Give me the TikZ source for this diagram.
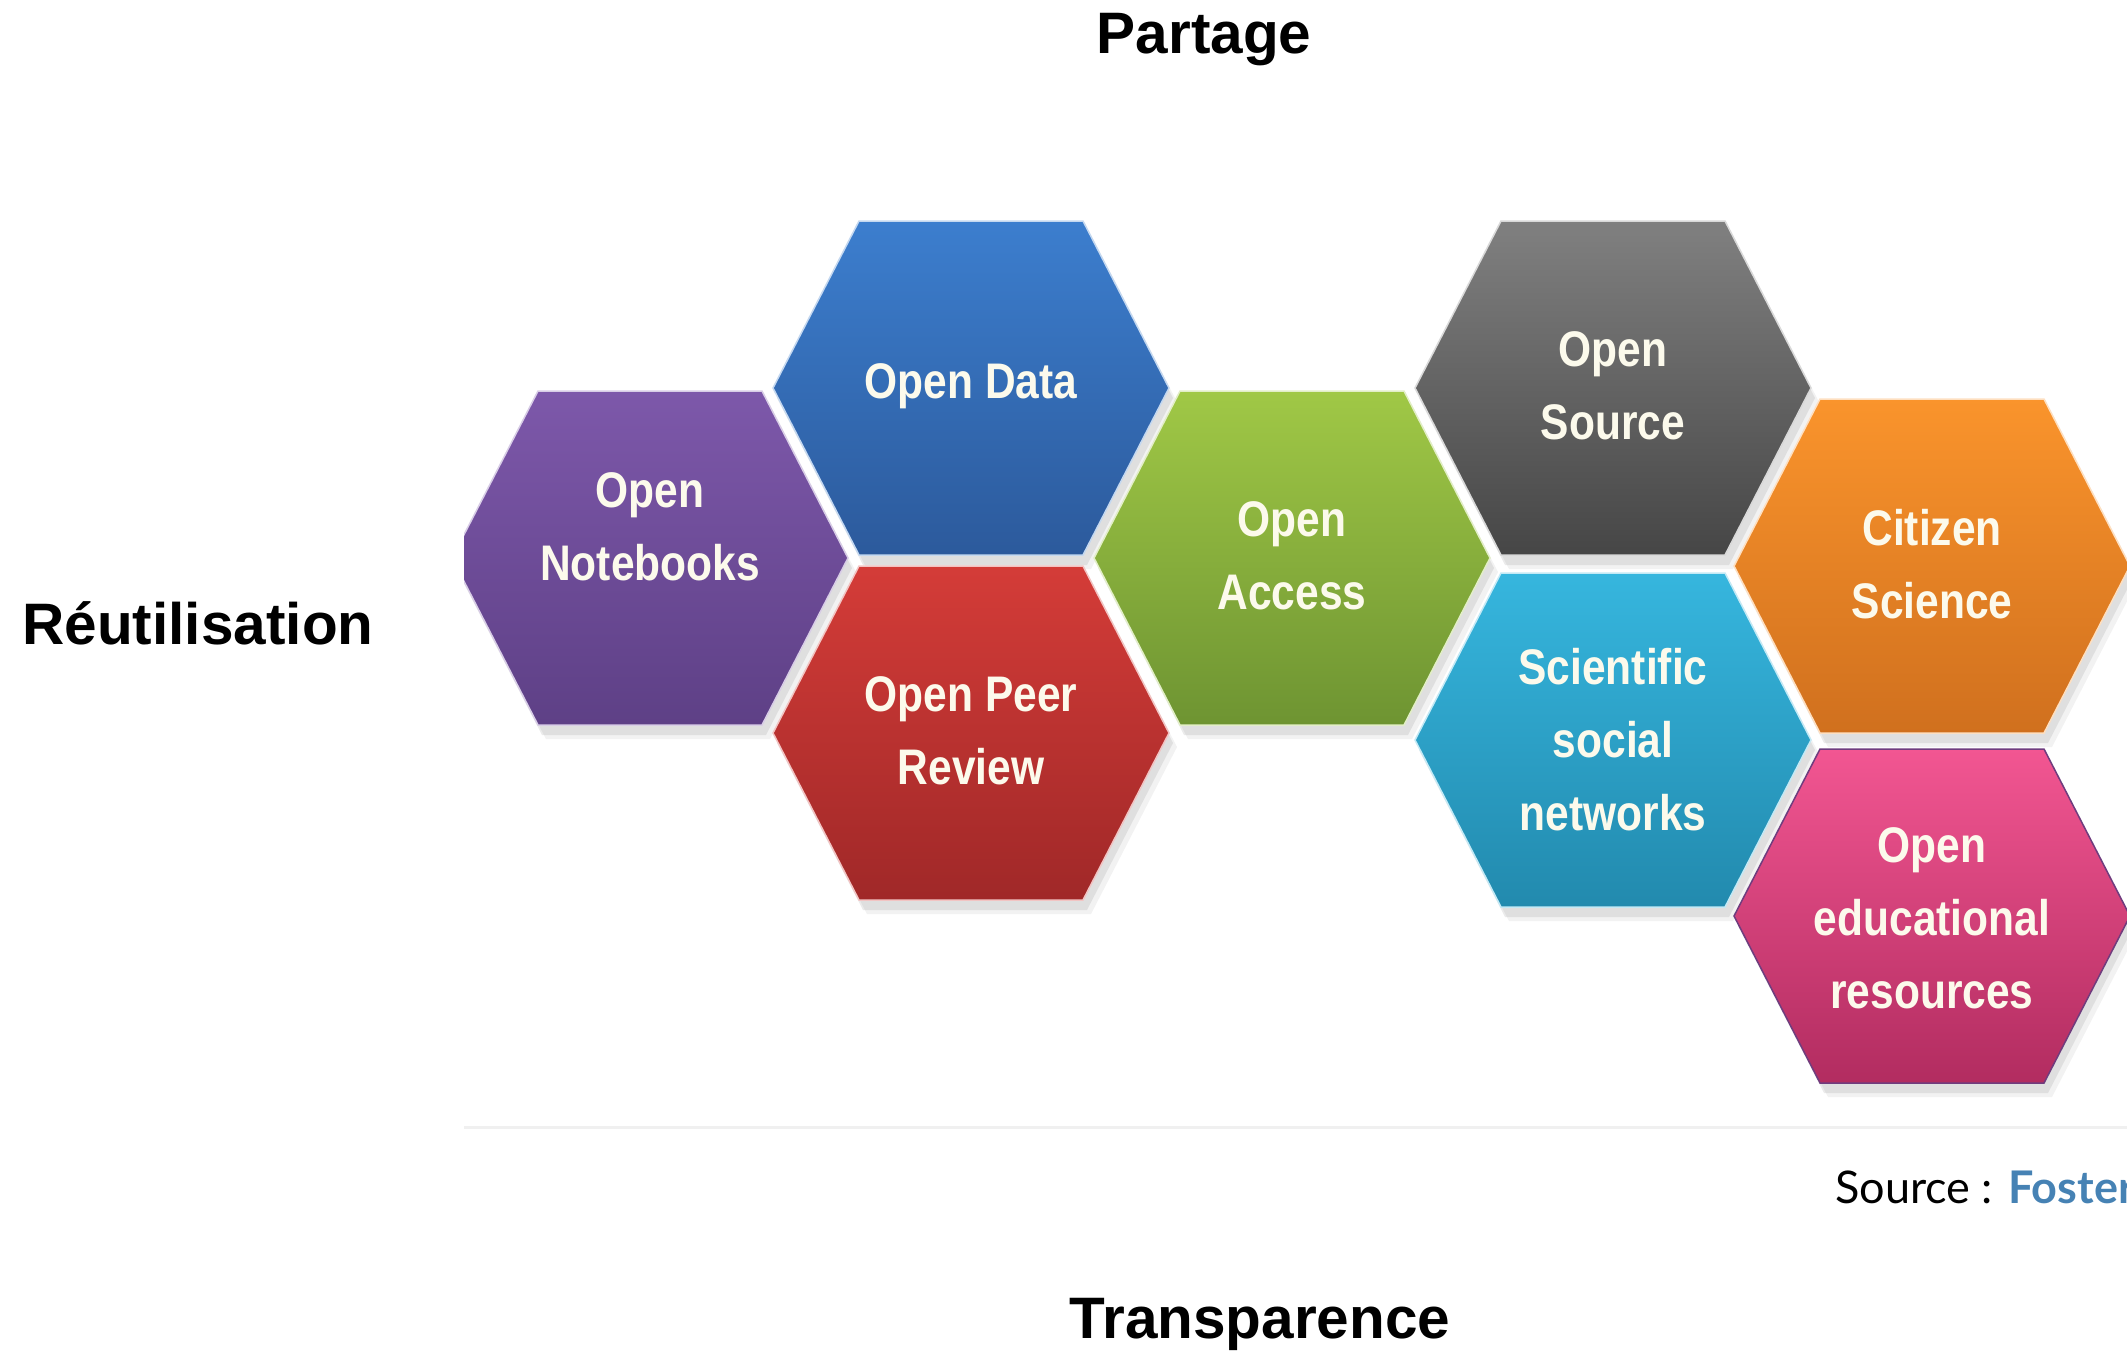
\documentclass[tikz,border=0pt]{standalone}
\usepackage{fontspec}
\setmainfont{Liberation Sans}
\newfontfamily\hexfont{Liberation Sans}[FakeStretch=0.85]
\newfontfamily\srcfont{Lato}
\definecolor{purT}{RGB}{125,88,170}
\definecolor{purB}{RGB}{94,64,134}
\definecolor{bluT}{RGB}{60,126,206}
\definecolor{bluB}{RGB}{44,90,156}
\definecolor{redT}{RGB}{212,60,56}
\definecolor{redB}{RGB}{160,40,40}
\definecolor{grnT}{RGB}{160,200,70}
\definecolor{grnB}{RGB}{110,148,50}
\definecolor{gryT}{RGB}{128,128,128}
\definecolor{gryB}{RGB}{70,70,70}
\definecolor{cyaT}{RGB}{54,182,222}
\definecolor{cyaB}{RGB}{34,138,174}
\definecolor{oraT}{RGB}{250,148,44}
\definecolor{oraB}{RGB}{208,112,30}
\definecolor{pnkT}{RGB}{242,86,146}
\definecolor{pnkB}{RGB}{178,44,96}
\definecolor{labtext}{RGB}{252,250,236}
\definecolor{fosterblue}{RGB}{70,130,180}
\tikzset{
  pics/hexa/.style n args={3}{code={
    \fill[black,opacity=.08] (-194,10) -- (-108,-157) -- (116,-157) -- (202,10) -- (116,177) -- (-108,177) -- cycle;
    \fill[black,opacity=.05] (-190,14) -- (-104,-153) -- (120,-153) -- (206,14) -- (120,181) -- (-104,181) -- cycle;
    \path[top color=#1,bottom color=#2,draw=#3,line width=1.5]
      (-198,0) -- (-112,-167) -- (112,-167) -- (198,0) -- (112,167) -- (-112,167) -- cycle;
  }},
  lab/.style={font=\hexfont\bfseries\fontsize{50}{73}\selectfont, align=center, text=labtext, inner sep=0},
  title/.style={font=\bfseries\fontsize{58.5}{70}\selectfont, anchor=base, inner sep=0}
}
\begin{document}
\begin{tikzpicture}[x=1pt,y=-1pt]
\useasboundingbox (0,0) rectangle (2127,1353);
\begin{scope}
  \clip (464,0) rectangle (2127,1127);
  \pic at (650,558)  {hexa={purT}{purB}{white!70!purT}};
  \pic at (971,388)  {hexa={bluT}{bluB}{white!70!bluT}};
  \pic at (971,733)  {hexa={redT}{redB}{white!70!redT}};
  \pic at (1292,558) {hexa={grnT}{grnB}{white!70!grnT}};
  \pic at (1613,388) {hexa={gryT}{gryB}{white!70!gryT}};
  \pic at (1613,740) {hexa={cyaT}{cyaB}{white!70!cyaT}};
  \pic at (1932,566) {hexa={oraT}{oraB}{white!70!oraT}};
  \pic at (1932,916) {hexa={pnkT}{pnkB}{purB!80!pnkB}};
\end{scope}
\node[lab] (nb) at (650,527) {Open\\Notebooks};
\node[lab] (od) at (971,386) {Open Data};
\node[lab] (pr) at (971,731) {Open Peer\\Review};
\node[lab] (oa) at (1292,556) {Open\\Access};
\node[lab] (os) at (1613,386) {Open\\Source};
\node[lab] (sn) at (1613,740) {Scientific\\social\\networks};
\node[lab] (cs) at (1932,564) {Citizen\\Science};
\node[lab] (oe) at (1932,918) {Open\\educational\\resources};
\node[title] (partage) at (1204,53) {Partage};
\node[title] (reutil) at (198,644) {Réutilisation};
\node[title] (transp) at (1260,1338) {Transparence};
\draw[gray!12,line width=3] (464,1127) -- (2127,1127);
\begin{scope}
  \clip (0,1140) rectangle (2127,1240);
  \node[anchor=base west,inner sep=0,font=\srcfont\fontsize{45}{54}\selectfont] (src) at (1835,1203) {Source : \textcolor{fosterblue}{\bfseries Foster}};
\end{scope}
\end{tikzpicture}
\end{document}
